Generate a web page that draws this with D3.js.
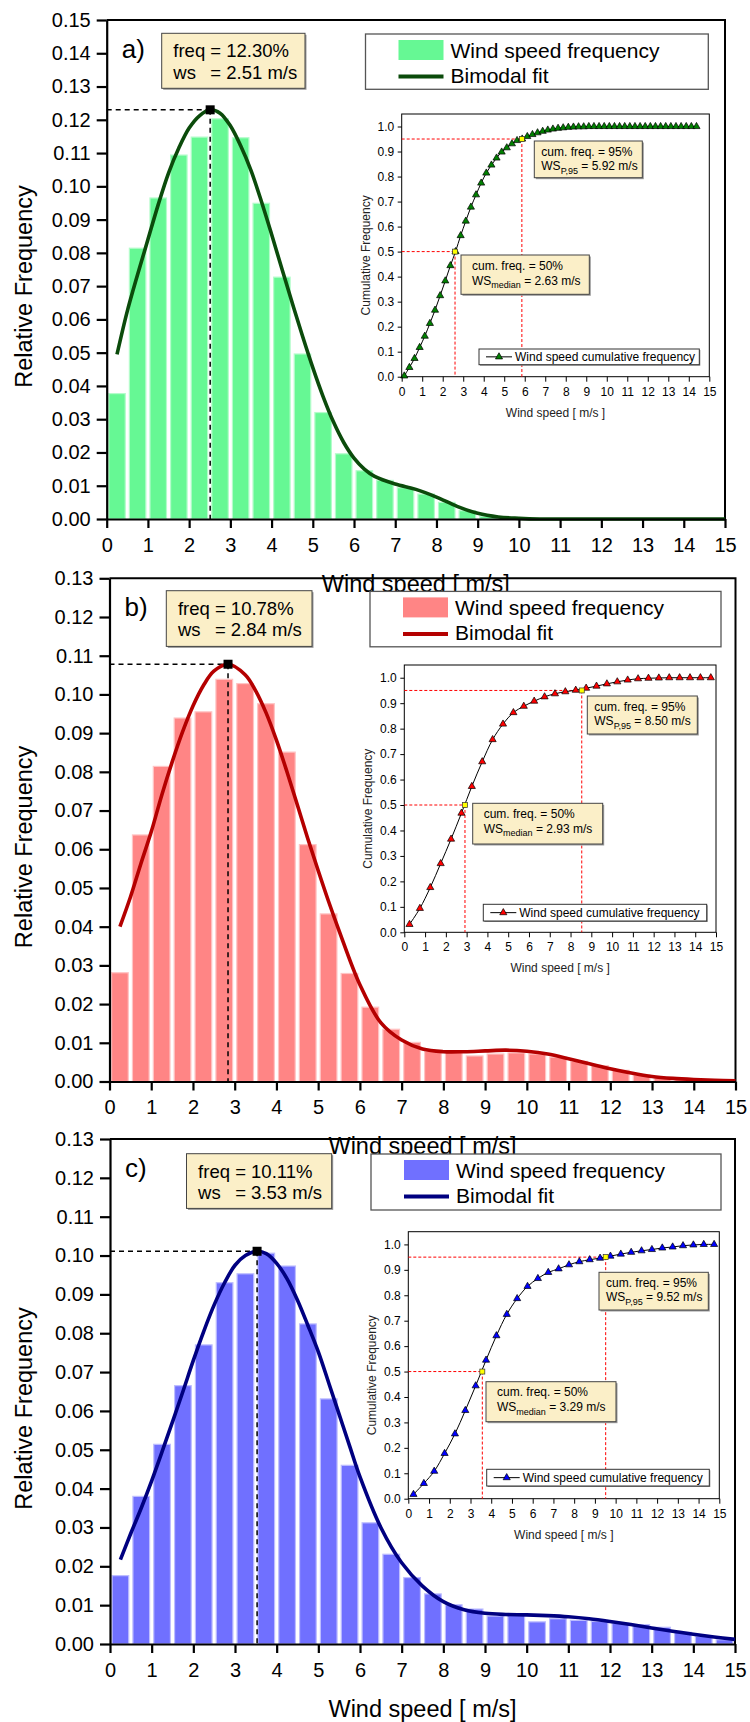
<!DOCTYPE html>
<html><head><meta charset="utf-8">
<script src="https://cdn.jsdelivr.net/npm/d3@7"></script>
<style>
body{margin:0;background:#fff;}
svg{display:block;font-family:"Liberation Sans",Arial,Helvetica,sans-serif;}
text{white-space:pre;}
</style></head><body>
<script>
// ---------------- DATA ----------------
const binCenters = [0.25,0.75,1.25,1.75,2.25,2.75,3.25,3.75,4.25,4.75,5.25,5.75,6.25,6.75,7.25,7.75,8.25,8.75,9.25,9.75,10.25,10.75,11.25,11.75,12.25,12.75,13.25,13.75,14.25,14.75];
const freqA = [0.0377,0.0814,0.0965,0.1094,0.1148,0.1203,0.1146,0.0949,0.0727,0.0496,0.0320,0.0196,0.0145,0.0116,0.0094,0.0075,0.0050,0.0025,0.0008,0.0003,0,0,0,0,0,0,0,0,0,0];
const freqB = [0.0281,0.0637,0.0814,0.0939,0.0955,0.1039,0.1028,0.0976,0.0851,0.0612,0.0433,0.0279,0.0192,0.0135,0.0101,0.0078,0.0078,0.0066,0.0071,0.0074,0.0071,0.0063,0.0052,0.0041,0.0029,0.0017,0.0009,0.0005,0.0003,0.0002];
const freqC = [0.0176,0.0380,0.0514,0.0665,0.0770,0.0930,0.0953,0.1006,0.0973,0.0824,0.0631,0.0460,0.0312,0.0231,0.0171,0.0129,0.0101,0.0090,0.0072,0.0075,0.0057,0.0065,0.0061,0.0058,0.0053,0.0050,0.0043,0.0030,0.0020,0.0011];

const fitXA = [0.25,0.5,0.75,1,1.25,1.5,1.75,2,2.25,2.51,2.75,3,3.25,3.5,3.75,4,4.25,4.5,4.75,5,5.25,5.5,5.75,6,6.25,6.5,7,7.5,8,8.5,9,9.5,10,10.5,11,15];
const fitYA = [0.0495,0.0625,0.0735,0.0840,0.0945,0.1040,0.1115,0.1175,0.1212,0.1230,0.1220,0.1182,0.1122,0.1048,0.0956,0.0856,0.0752,0.0650,0.0550,0.0455,0.0368,0.0292,0.0230,0.0183,0.0150,0.0128,0.0105,0.0089,0.0066,0.0038,0.0017,0.0006,0.0002,0,0,0];
const fitXB = [0.25,0.5,0.75,1,1.25,1.5,1.75,2,2.25,2.5,2.84,3.25,3.5,3.75,4,4.25,4.5,4.75,5,5.25,5.5,6,6.5,7,7.5,8,8.5,9,9.5,10,10.5,11,11.5,12,12.5,13,13.5,14,14.5,15];
const fitYB = [0.0400,0.0476,0.0562,0.0645,0.0739,0.0825,0.0903,0.0970,0.1023,0.1060,0.1078,0.1051,0.1010,0.0953,0.0882,0.0801,0.0715,0.0628,0.0545,0.0465,0.0390,0.0250,0.0152,0.0107,0.0084,0.0077,0.0077,0.0079,0.0081,0.0078,0.0071,0.0059,0.0046,0.0033,0.0022,0.0013,0.0008,0.0005,0.0003,0.0002];
const fitXC = [0.25,0.5,0.75,1,1.25,1.5,1.75,2,2.25,2.5,2.75,3,3.25,3.53,3.75,4,4.25,4.5,4.75,5,5.25,5.5,5.75,6,6.5,7,7.5,8,8.5,9,9.5,10,10.5,11,11.5,12,12.5,13,13.5,14,14.5,15];
const fitYC = [0.0217,0.0285,0.0350,0.0420,0.0495,0.0572,0.0650,0.0730,0.0805,0.0873,0.0930,0.0975,0.1000,0.1011,0.1005,0.0980,0.0940,0.0885,0.0820,0.0752,0.0672,0.0591,0.0510,0.0430,0.0300,0.0209,0.0149,0.0109,0.0088,0.0079,0.0076,0.0075,0.0073,0.0070,0.0065,0.0058,0.0050,0.0041,0.0033,0.0025,0.0018,0.0012];

const peakA = [2.51, 0.1230], peakB = [2.84, 0.1078], peakC = [3.53, 0.1011];
const peakTextA = ["12.30%", "2.51 m/s"], peakTextB = ["10.78%", "2.84 m/s"], peakTextC = ["10.11%", "3.53 m/s"];

const cumXA = [0.125,0.375,0.625,0.875,1.125,1.375,1.625,1.875,2.125,2.375,2.625,2.875,3.125,3.375,3.625,3.875,4.125,4.375,4.625,4.875,5.125,5.375,5.625,5.875,6.125,6.375,6.625,6.875,7.125,7.375,7.625,7.875,8.125,8.375,8.625,8.875,9.125,9.375,9.625,9.875,10.125,10.375,10.625,10.875,11.125,11.375,11.625,11.875,12.125,12.375,12.625,12.875,13.125,13.375,13.625,13.875,14.125,14.375];
const cumYA = [0.003,0.037,0.073,0.117,0.162,0.213,0.266,0.324,0.383,0.444,0.500,0.564,0.622,0.678,0.727,0.774,0.814,0.846,0.874,0.898,0.915,0.931,0.944,0.950,0.960,0.968,0.975,0.981,0.986,0.990,0.993,0.995,0.997,0.998,0.999,0.999,1,1,1,1,1,1,1,1,1,1,1,1,1,1,1,1,1,1,1,1,1,1];
const cumXB = binCenters;
const cumYB = [0.031,0.094,0.176,0.270,0.366,0.468,0.573,0.670,0.757,0.818,0.863,0.888,0.908,0.925,0.937,0.945,0.951,0.959,0.967,0.976,0.984,0.991,0.996,0.998,0.999,1,1,1,1,1];
const cumXC = binCenters;
const cumYC = [0.017,0.060,0.108,0.178,0.255,0.347,0.444,0.545,0.641,0.725,0.787,0.835,0.866,0.890,0.904,0.920,0.932,0.940,0.946,0.954,0.962,0.969,0.975,0.980,0.986,0.990,0.995,0.998,1,1];

// marker positions as drawn in the figure, and their printed labels
const medA = [2.60, 0.5], p95A = [5.86, 0.95], medTextA = "2.63 m/s", p95TextA = "5.92 m/s";
const medB = [2.92, 0.5], p95B = [8.54, 0.95], medTextB = "2.93 m/s", p95TextB = "8.50 m/s";
const medC = [3.57, 0.5], p95C = [9.52, 0.95], medTextC = "3.29 m/s", p95TextC = "9.52 m/s";

const xTicks = [0,1,2,3,4,5,6,7,8,9,10,11,12,13,14,15];
const yTicksA = [0,0.01,0.02,0.03,0.04,0.05,0.06,0.07,0.08,0.09,0.10,0.11,0.12,0.13,0.14,0.15];
const yTicksBC = [0,0.01,0.02,0.03,0.04,0.05,0.06,0.07,0.08,0.09,0.10,0.11,0.12,0.13];
const cumTicks = [0,0.1,0.2,0.3,0.4,0.5,0.6,0.7,0.8,0.9,1.0];

// ---------------- LAYOUT / STYLE ----------------
const FONT = '"Liberation Sans", Arial, Helvetica, sans-serif';
const panels = [
  {lab:"a)", ymax:0.15, yTicks:yTicksA, freq:freqA, fx:fitXA, fy:fitYA, peak:peakA, ptxt:peakTextA,
   cx:cumXA, cy:cumYA, med:medA, p95:p95A, medT:medTextA, p95T:p95TextA,
   bar:"#66F894", edge:"#B4FCCB", line:"#0B4B0B", tri:"#008000",
   l:106.7, r:725, t:20, b:519,
   box:[161.7,33.3,143.3,55], leg:[365.5,34,342.8,55.3],
   ins:{l:401.7,r:709.3,t:114,b:376.7, b95:[534.3,141,108,36.7], b50:[461,255,128.3,39.3], lg:[479,349,220.3,15.7]}},
  {lab:"b)", ymax:0.13, yTicks:yTicksBC, freq:freqB, fx:fitXB, fy:fitYB, peak:peakB, ptxt:peakTextB,
   cx:cumXB, cy:cumYB, med:medB, p95:p95B, medT:medTextB, p95T:p95TextB,
   bar:"#FF8585", edge:"#FFC4C4", line:"#B40000", tri:"#FF0000",
   l:109.5, r:735.5, t:578.3, b:1081.5,
   box:[166.3,590.7,145.7,55.7], leg:[370,591.4,351,55.4],
   ins:{l:404.3,r:716,t:665,b:932.3, b95:[587.3,696,110,38], b50:[472.7,803.3,130,40.7], lg:[483.3,904.3,223.4,16.7]}},
  {lab:"c)", ymax:0.13, yTicks:yTicksBC, freq:freqC, fx:fitXC, fy:fitYC, peak:peakC, ptxt:peakTextC,
   cx:cumXC, cy:cumYC, med:medC, p95:p95C, medT:medTextC, p95T:p95TextC,
   bar:"#7070FF", edge:"#BDBDFF", line:"#000080", tri:"#0000FF",
   l:110, r:735, t:1139, b:1644,
   box:[186.5,1153.7,145.2,54.7], leg:[371,1154,350,56],
   ins:{l:408.3,r:719.3,t:1231.7,b:1498.7, b95:[599,1272.3,109.3,37.7], b50:[486,1381.7,130,40], lg:[486.7,1469.3,222.6,16.7]}}
];

const svg = d3.select("body").append("svg").attr("width",750).attr("height",1722)
  .attr("font-family",FONT);

function styleAxis(g, fs, sw){
  g.attr("font-family",FONT).attr("font-size",fs);
  g.selectAll("text").attr("fill","#000");
  g.selectAll("line").attr("stroke","#000").attr("stroke-width",sw);
  g.select(".domain").attr("stroke","#000").attr("stroke-width",sw);
}

function creamBox(g, bx){
  g.append("rect").attr("x",bx[0]+1.5).attr("y",bx[1]+1.5).attr("width",bx[2]).attr("height",bx[3]).attr("fill","#9a9a9a");
  g.append("rect").attr("x",bx[0]).attr("y",bx[1]).attr("width",bx[2]).attr("height",bx[3])
    .attr("fill","#FBEFC8").attr("stroke","#444").attr("stroke-width",1);
}

function drawPanel(p){
  const g = svg.append("g");
  const x = d3.scaleLinear().domain([0,15]).range([p.l,p.r]);
  const y = d3.scaleLinear().domain([0,p.ymax]).range([p.b,p.t]);

  // bars
  g.append("g").selectAll("rect").data(binCenters.map((c,i)=>({c, v:p.freq[i]}))).join("rect")
    .attr("x",d=>x(d.c-0.2)).attr("width",d=>x(d.c+0.2)-x(d.c-0.2))
    .attr("y",d=>y(d.v)).attr("height",d=>y(0)-y(d.v))
    .attr("fill",p.bar).attr("stroke",p.edge).attr("stroke-width",1.2);

  // frame (top + right)
  g.append("path").attr("d",`M${p.l},${p.t}H${p.r}V${p.b}`).attr("fill","none").attr("stroke","#000").attr("stroke-width",2);

  // peak guides
  g.append("line").attr("x1",x(0)).attr("x2",x(p.peak[0])).attr("y1",y(p.peak[1])).attr("y2",y(p.peak[1]))
    .attr("stroke","#000").attr("stroke-width",1.5).attr("stroke-dasharray","5,4");
  g.append("line").attr("x1",x(p.peak[0])).attr("x2",x(p.peak[0])).attr("y1",y(p.peak[1])).attr("y2",y(0))
    .attr("stroke","#000").attr("stroke-width",1.5).attr("stroke-dasharray","5,4");

  // fit curve
  const fit = p.fx.map((v,i)=>[v,p.fy[i]]);
  g.append("path").datum(fit).attr("fill","none").attr("stroke",p.line).attr("stroke-width",3.6)
    .attr("stroke-linejoin","round")
    .attr("d",d3.line().x(d=>x(d[0])).y(d=>y(d[1])).curve(d3.curveCatmullRom.alpha(0.5)));

  g.append("rect").attr("x",x(p.peak[0])-4.5).attr("y",y(p.peak[1])-4.5).attr("width",9).attr("height",9).attr("fill","#000");

  // axes
  const ya = g.append("g").attr("transform",`translate(${p.l},0)`)
    .call(d3.axisLeft(y).tickValues(p.yTicks).tickFormat(d3.format(".2f")).tickSize(10).tickSizeOuter(0).tickPadding(6));
  styleAxis(ya, 20, 2.2);
  const xa = g.append("g").attr("transform",`translate(0,${p.b})`)
    .call(d3.axisBottom(x).tickValues(xTicks).tickFormat(d3.format("d")).tickSize(9).tickSizeOuter(0).tickPadding(9.5));
  styleAxis(xa, 20, 2.2);

  // panel label
  g.append("text").attr("x",p.l+15).attr("y",p.t+37.5).attr("font-size",26).text(p.lab);

  // peak annotation box
  creamBox(g, p.box);
  const tx = p.box[0]+11.6;
  const t1 = g.append("text").attr("x",tx).attr("y",p.box[1]+24).attr("font-size",18.5).text("freq ");
  const w = t1.node().getComputedTextLength();
  t1.append("tspan").text("= " + p.ptxt[0]);
  g.append("text").attr("x",tx).attr("y",p.box[1]+45.5).attr("font-size",18.5).text("ws");
  g.append("text").attr("x",tx+w).attr("y",p.box[1]+45.5).attr("font-size",18.5).text("= " + p.ptxt[1]);

  // axis titles
  g.append("text").attr("transform",`translate(32,${(p.t+p.b)/2+17}) rotate(-90)`).attr("text-anchor","middle")
    .attr("font-size",23.5).text("Relative Frequency");
  g.append("text").attr("x",(p.l+p.r)/2).attr("y",p.b+72.7).attr("text-anchor","middle")
    .attr("font-size",23.5).text("Wind speed [ m/s]");

  // legend (white box covers previous panel's title)
  const L = p.leg;
  g.append("rect").attr("x",L[0]).attr("y",L[1]).attr("width",L[2]).attr("height",L[3])
    .attr("fill","#fff").attr("stroke","#555").attr("stroke-width",1.3);
  g.append("rect").attr("x",L[0]+33).attr("y",L[1]+6).attr("width",45).attr("height",20).attr("fill",p.bar);
  g.append("line").attr("x1",L[0]+33).attr("x2",L[0]+78).attr("y1",L[1]+42.6).attr("y2",L[1]+42.6)
    .attr("stroke",p.line).attr("stroke-width",4);
  g.append("text").attr("x",L[0]+85).attr("y",L[1]+23.5).attr("font-size",21).text("Wind speed frequency");
  g.append("text").attr("x",L[0]+85).attr("y",L[1]+49).attr("font-size",21).text("Bimodal fit");

  drawInset(g, p);
}

function drawInset(g0, p){
  const q = p.ins;
  const g = g0.append("g");
  const x = d3.scaleLinear().domain([0,15]).range([q.l,q.r]);
  const y = d3.scaleLinear().domain([0,1.05]).range([q.b,q.t]);
  g.append("rect").attr("x",q.l).attr("y",q.t).attr("width",q.r-q.l).attr("height",q.b-q.t)
    .attr("fill","#fff").attr("stroke","#000").attr("stroke-width",1);

  // red dashed guides
  const red = (x1,y1,x2,y2)=>g.append("line").attr("x1",x1).attr("y1",y1).attr("x2",x2).attr("y2",y2)
    .attr("stroke","#FF0000").attr("stroke-width",1).attr("stroke-dasharray","3,2");
  red(x(0),y(p.med[1]),x(p.med[0]),y(p.med[1]));
  red(x(p.med[0]),y(p.med[1]),x(p.med[0]),y(0));
  red(x(0),y(p.p95[1]),x(p.p95[0]),y(p.p95[1]));
  red(x(p.p95[0]),y(p.p95[1]),x(p.p95[0]),y(0));

  const pts = p.cx.map((v,i)=>[v,p.cy[i]]);
  g.append("path").datum(pts).attr("fill","none").attr("stroke","#000").attr("stroke-width",1)
    .attr("d",d3.line().x(d=>x(d[0])).y(d=>y(d[1])).curve(d3.curveCatmullRom.alpha(0.5)));
  const tri = d3.symbol().type(d3.symbolTriangle).size(22);
  g.append("g").selectAll("path").data(pts).join("path")
    .attr("transform",d=>`translate(${x(d[0])},${y(d[1])})`).attr("d",tri)
    .attr("fill",p.tri).attr("stroke","#000").attr("stroke-width",0.7);
  [p.med,p.p95].forEach(m=>{
    g.append("rect").attr("x",x(m[0])-2.5).attr("y",y(m[1])-2.5).attr("width",5).attr("height",5)
      .attr("fill","#FFFF00").attr("stroke","#333").attr("stroke-width",0.7);
  });

  const ya = g.append("g").attr("transform",`translate(${q.l},0)`)
    .call(d3.axisLeft(y).tickValues(cumTicks).tickFormat(d3.format(".1f")).tickSize(4).tickSizeOuter(0).tickPadding(3.5));
  styleAxis(ya, 12, 1);
  const xa = g.append("g").attr("transform",`translate(0,${q.b})`)
    .call(d3.axisBottom(x).tickValues(xTicks).tickFormat(d3.format("d")).tickSize(5).tickSizeOuter(0).tickPadding(5.5));
  styleAxis(xa, 12, 1);
  ya.select(".domain").remove(); xa.select(".domain").remove();

  g.append("text").attr("transform",`translate(${q.l-32},${(q.t+q.b)/2+10}) rotate(-90)`).attr("text-anchor","middle")
    .attr("font-size",12).attr("fill","#222").text("Cumulative Frequency");
  g.append("text").attr("x",(q.l+q.r)/2).attr("y",q.b+40).attr("text-anchor","middle")
    .attr("font-size",12).attr("fill","#222").text("Wind speed [ m/s ]");

  // annotation boxes
  creamBox(g, q.b95);
  g.append("text").attr("x",q.b95[0]+7).attr("y",q.b95[1]+14.5).attr("font-size",12).text("cum. freq. = 95%");
  const s1 = g.append("text").attr("x",q.b95[0]+7).attr("y",q.b95[1]+29).attr("font-size",12).text("WS");
  s1.append("tspan").attr("font-size",9).attr("dy",3.5).text("P,95");
  s1.append("tspan").attr("dy",-3.5).text(" = " + p.p95T);

  creamBox(g, q.b50);
  g.append("text").attr("x",q.b50[0]+11).attr("y",q.b50[1]+14.5).attr("font-size",12).text("cum. freq. = 50%");
  const s2 = g.append("text").attr("x",q.b50[0]+11).attr("y",q.b50[1]+29.5).attr("font-size",12).text("WS");
  s2.append("tspan").attr("font-size",9).attr("dy",3.5).text("median");
  s2.append("tspan").attr("dy",-3.5).text(" = " + p.medT);

  // inset legend
  const L = q.lg;
  g.append("rect").attr("x",L[0]+1).attr("y",L[1]+1).attr("width",L[2]).attr("height",L[3]).attr("fill","#888");
  g.append("rect").attr("x",L[0]).attr("y",L[1]).attr("width",L[2]).attr("height",L[3])
    .attr("fill","#fff").attr("stroke","#333").attr("stroke-width",1);
  g.append("line").attr("x1",L[0]+7).attr("x2",L[0]+33).attr("y1",L[1]+L[3]/2).attr("y2",L[1]+L[3]/2)
    .attr("stroke","#000").attr("stroke-width",1);
  g.append("path").attr("transform",`translate(${L[0]+20},${L[1]+L[3]/2})`).attr("d",tri)
    .attr("fill",p.tri).attr("stroke","#000").attr("stroke-width",0.7);
  g.append("text").attr("x",L[0]+36).attr("y",L[1]+L[3]/2+4.3).attr("font-size",12).text("Wind speed cumulative frequency");
}

panels.forEach(drawPanel);
</script>
</body></html>
